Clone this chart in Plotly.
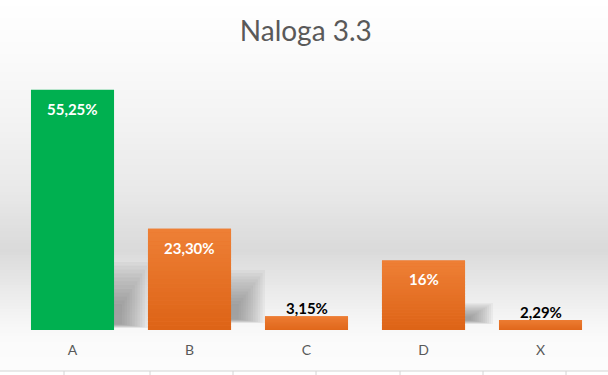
import plotly.graph_objects as go

categories = ["A", "B", "C", "D", "X"]
values = [55.25, 23.30, 3.15, 16.0, 2.29]
labels = ["55,25%", "23,30%", "3,15%", "16%", "2,29%"]
colors = ["#00B050", "#E9752D", "#E9752D", "#E9752D", "#E9752D"]
inside = [True, True, False, True, False]

W, H = 608, 375
PL, PR = 14, 599
PT, PB = 69, 330  # plot area top/bottom in px
YMAX = 60
BAR_W = 0.71

def py2paper(py):
    return (PB - py) / (PB - PT)

def px2paper(px):
    return (px - PL) / (PR - PL)

# background gradient stops (pixel y, gray level)
stops = [(0, 255), (60, 250), (120, 243), (190, 233), (250, 218), (290, 234), (325, 247), (345, 251), (370, 252)]

def gray_at(y):
    for (y0, g0), (y1, g1) in zip(stops, stops[1:]):
        if y0 <= y <= y1:
            t = (y - y0) / (y1 - y0)
            return g0 + (g1 - g0) * t
    return 252

shapes = []
step = 3
for y in range(0, 372, step):
    g = int(round(gray_at(y + step / 2)))
    shapes.append(dict(type="rect", xref="paper", yref="paper",
                       x0=px2paper(-5), x1=px2paper(W + 5),
                       y0=py2paper(min(y + step, 371)), y1=py2paper(y),
                       fillcolor=f"rgb({g},{g},{g})", line_width=0, layer="below"))

# soft shadows behind bars (decoration, relative to each bar)
shadow_px = {0: (262, 328, 36), 1: (270, 323, 34), 3: (303, 324, 28)}
n_layers = 12
for i, (sy0, sy1, sw) in shadow_px.items():
    cx = PL + (i + 0.5) * (PR - PL) / len(categories)
    right = cx + 41.5
    hgt = sy1 - sy0
    for k in range(n_layers):
        f = k / n_layers
        shapes.append(dict(type="rect", xref="paper", yref="paper",
                           x0=px2paper(right - 2), x1=px2paper(right + sw * (1 - f * 0.85)),
                           y0=py2paper(sy1 - 4 * f), y1=py2paper(sy0 + hgt * f * 0.7),
                           fillcolor="rgba(100,100,100,0.065)", line_width=0, layer="below"))

# spreadsheet grid below chart
shapes.append(dict(type="rect", xref="paper", yref="paper",
                   x0=px2paper(-5), x1=px2paper(W + 5), y0=py2paper(380), y1=py2paper(371),
                   fillcolor="white", line_width=0, layer="below"))
shapes.append(dict(type="line", xref="paper", yref="paper",
                   x0=px2paper(-5), x1=px2paper(W + 5), y0=py2paper(371), y1=py2paper(371),
                   line=dict(color="#d4d4d4", width=1), layer="above"))
for gx in [64, 150, 233, 316, 400, 483, 566]:
    shapes.append(dict(type="line", xref="paper", yref="paper",
                       x0=px2paper(gx), x1=px2paper(gx), y0=py2paper(371), y1=py2paper(380),
                       line=dict(color="#d4d4d4", width=1), layer="above"))

# vertical colour gradient on the orange bars (top light -> bottom dark)
top_rgb = (238, 128, 54)
bot_rgb = (221, 99, 22)
n_strips = 24
for i, (v, col) in enumerate(zip(values, colors)):
    if col == colors[0]:
        continue
    for k in range(n_strips):
        t = (k + 0.5) / n_strips
        r, g, b = (int(round(bc + (tc - bc) * t)) for bc, tc in zip(bot_rgb, top_rgb))
        shapes.append(dict(type="rect", xref="x", yref="y",
                           x0=i - BAR_W / 2, x1=i + BAR_W / 2,
                           y0=v * k / n_strips, y1=v * (k + 1) / n_strips,
                           fillcolor=f"rgb({r},{g},{b})", line_width=0, layer="above"))

fig = go.Figure(go.Bar(
    x=categories, y=values,
    marker=dict(color=colors, line_width=0),
    width=BAR_W,
    hoverinfo="x+y",
))

annotations = []
for c, v, lab, ins in zip(categories, values, labels, inside):
    annotations.append(dict(
        x=c, y=v, xref="x", yref="y", text=f"<b>{lab}</b>", showarrow=False,
        yanchor="middle", yshift=-19 if ins else 8,
        font=dict(family="Lato", size=15, color="white" if ins else "black"),
    ))

fig.update_layout(
    width=W, height=H,
    margin=dict(l=PL, r=W - PR, t=PT, b=H - PB, autoexpand=False),
    paper_bgcolor="white", plot_bgcolor="rgba(0,0,0,0)",
    title=dict(text="Naloga 3.3", x=0.503, xanchor="center", y=1 - 31 / H, yanchor="middle",
               font=dict(family="Lato", size=28, color="#595959")),
    xaxis=dict(showgrid=False, showline=False, zeroline=False, ticks="",
               ticklabelstandoff=10,
               tickfont=dict(family="Lato", size=14, color="#595959")),
    yaxis=dict(visible=False, range=[0, YMAX]),
    shapes=shapes,
    annotations=annotations,
    showlegend=False,
)

fig.write_html("out.html", config={"displayModeBar": False},
               post_script="document.body.style.margin='0';")
